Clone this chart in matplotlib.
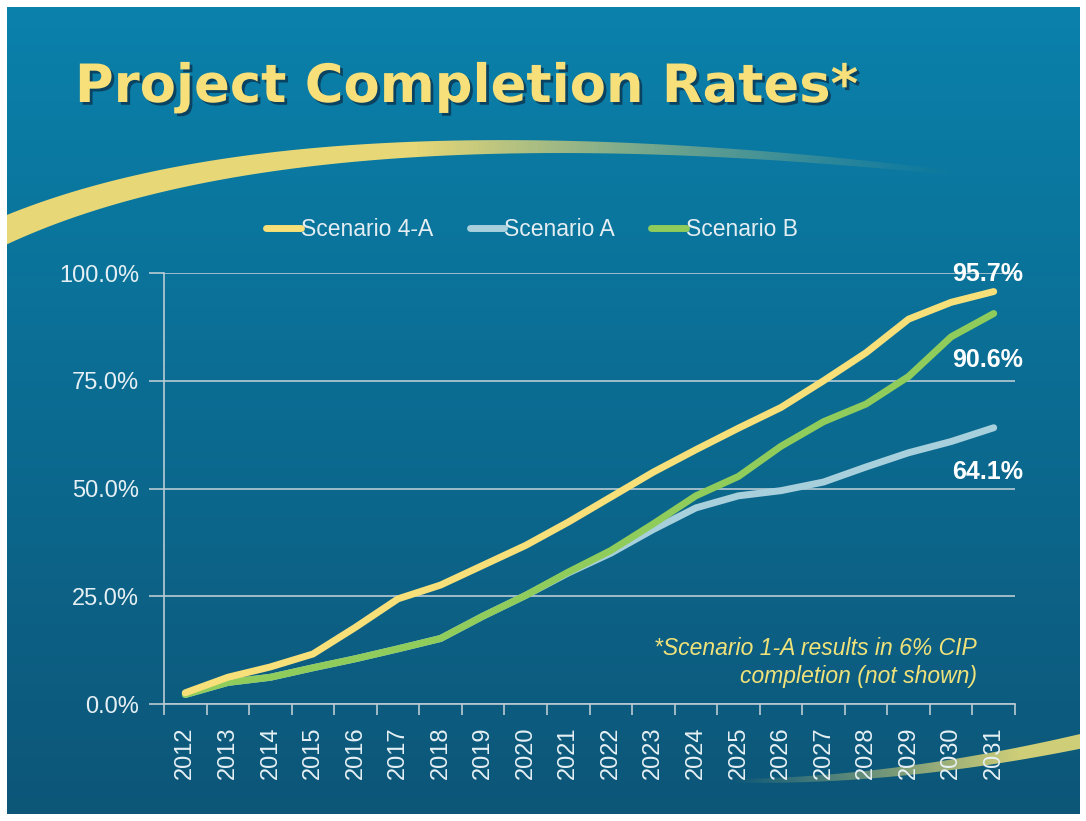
import numpy as np
import matplotlib
matplotlib.use("Agg")
import matplotlib.pyplot as plt
import matplotlib.patheffects as pe
from matplotlib.patches import Polygon, Rectangle
from matplotlib.ticker import FixedLocator, PercentFormatter

years = [str(y) for y in range(2012, 2032)]
scenario_4a = [2.6, 6.2, 8.6, 11.6, 17.8, 24.4, 27.6, 32.2, 36.8, 42.2,
               48.0, 53.8, 59.0, 64.0, 68.8, 75.0, 81.5, 89.3, 93.2, 95.7]
scenario_a = [2.2, 5.0, 6.2, 8.4, 10.5, 12.8, 15.2, 20.4, 25.2, 30.4,
              35.0, 40.5, 45.5, 48.3, 49.5, 51.5, 55.0, 58.3, 60.9, 64.1]
scenario_b = [2.2, 5.0, 6.2, 8.4, 10.5, 12.8, 15.2, 20.4, 25.2, 30.6,
              35.6, 41.8, 48.3, 52.8, 59.8, 65.5, 69.6, 76.0, 85.2, 90.6]

W, H = 1086, 821
fig = plt.figure(figsize=(W / 100, H / 100), dpi=100)
fig.patch.set_facecolor("white")
plt.rcParams["font.family"] = ["Liberation Sans", "DejaVu Sans"]

# background slide
bg = fig.add_axes([0, 0, 1, 1])
bg.set_xlim(0, W)
bg.set_ylim(H, 0)
bg.axis("off")
top = np.array([0x0a, 0x81, 0xab]) / 255
bot = np.array([0x0d, 0x56, 0x78]) / 255
t = np.linspace(0, 1, 256)[:, None]
grad = (top * (1 - t) + bot * t)[:, None, :].repeat(2, axis=1)
bg.imshow(grad, extent=[7, 1080, 814, 7], aspect="auto", zorder=0)


def swoosh(p0, p1, p2, w0, w1, alpha_fn, color):
    s = np.linspace(0, 1, 300)[:, None]
    p0, p1, p2 = map(np.array, (p0, p1, p2))
    c = (1 - s) ** 2 * p0 + 2 * s * (1 - s) * p1 + s ** 2 * p2
    d = np.gradient(c, axis=0)
    n = np.stack([-d[:, 1], d[:, 0]], axis=1)
    n /= np.linalg.norm(n, axis=1)[:, None]
    w = (w0 + (w1 - w0) * s) / 2
    poly = np.vstack([c + n * w, (c - n * w)[::-1]])
    patch = Polygon(poly, closed=True, fc="none", ec="none")
    bg.add_patch(patch)
    xs = np.linspace(0, 1, 256)
    rgba = np.zeros((2, 256, 4))
    rgba[..., :3] = matplotlib.colors.to_rgb(color)
    rgba[..., 3] = alpha_fn(xs)
    x_lo, x_hi = poly[:, 0].min(), poly[:, 0].max()
    y_lo, y_hi = poly[:, 1].min(), poly[:, 1].max()
    im = bg.imshow(rgba, extent=[x_lo, x_hi, y_hi, y_lo], aspect="auto", zorder=1)
    im.set_clip_path(patch)


swoosh((-20, 242), (300, 84), (1075, 188), 28, 3,
       lambda u: 0.95 * np.clip((0.9 - u) / 0.5, 0, 1) ** 1.3, "#f4dd74")
swoosh((690, 780), (880, 787), (1100, 737), 2, 15,
       lambda u: 0.9 * np.clip((u - 0.1) / 0.7, 0, 1), "#e6dc78")

# white page margins
for rect in [(0, 0, W, 7), (0, 814, W, 7), (0, 0, 7, H), (1080, 0, 6, H)]:
    bg.add_patch(Rectangle(rect[:2], rect[2], rect[3], fc="white", ec="none", zorder=5))

# title
fig.text(75 / W, 1 - 102 / H, "Project Completion Rates*", fontsize=38,
         fontweight="bold", family="DejaVu Sans", color="#f7df7a",
         va="baseline", ha="left",
         path_effects=[pe.withSimplePatchShadow(offset=(2, -2), shadow_rgbFace="#0a3550", alpha=0.8)])

# chart
ax = fig.add_axes([164 / W, 1 - 704 / H, 851 / W, 431 / H])
ax.set_facecolor("none")
x = np.arange(len(years))
ax.plot(x, scenario_a, color="#a8d0dc", lw=5, solid_capstyle="round", label="Scenario A", zorder=3)
ax.plot(x, scenario_b, color="#8fcc5c", lw=5, solid_capstyle="round", label="Scenario B", zorder=4)
ax.plot(x, scenario_4a, color="#f7e07a", lw=5, solid_capstyle="round", label="Scenario 4-A", zorder=5)

ax.set_xlim(-0.5, len(years) - 0.5)
ax.set_ylim(0, 100)
ax.yaxis.set_major_locator(FixedLocator([0, 25, 50, 75, 100]))
ax.yaxis.set_major_formatter(PercentFormatter(decimals=1))
ax.grid(axis="y", color="#b9cbd3", lw=1.2)
ax.set_axisbelow(True)
for s in ("top", "right"):
    ax.spines[s].set_visible(False)
for s in ("left", "bottom"):
    ax.spines[s].set_color("#b9cbd3")
    ax.spines[s].set_linewidth(1.2)

ax.set_xticks(x)
ax.set_xticklabels(years, rotation=90, va="top", ha="center")
ax.set_xticks(np.arange(-0.5, len(years)), minor=True)
ax.tick_params(axis="x", which="major", length=0, pad=16, labelsize=17, labelcolor="#e6f0f4")
ax.tick_params(axis="x", which="minor", length=8, width=1.2, color="#b9cbd3", direction="out")
ax.tick_params(axis="y", length=11, width=1.2, color="#b9cbd3", pad=7,
               labelsize=17, labelcolor="#e6f0f4")

# end labels
ends = [(scenario_4a[-1], 18), (scenario_b[-1], -46), (scenario_a[-1], -44)]
for v, dy in ends:
    ax.annotate(f"{v:.1f}%", (x[-1], v), xytext=(-6, dy), textcoords="offset pixels",
                ha="center", va="center", fontsize=18, fontweight="bold",
                color="white", zorder=6)

# footnote
fig.text(977 / W, 1 - 648 / H, "*Scenario 1-A results in 6% CIP",
         ha="right", va="center", fontsize=16.5, style="italic", color="#f0e27a")
fig.text(977 / W, 1 - 677 / H, "completion (not shown)",
         ha="right", va="center", fontsize=16.5, style="italic", color="#f0e27a")

# legend
handles, labels = ax.get_legend_handles_labels()
order = [2, 0, 1]
leg = fig.legend([handles[i] for i in order], [labels[i] for i in order],
                 loc="center", bbox_to_anchor=(532 / W, 1 - 230 / H), ncol=3,
                 frameon=False, handlelength=1.5, handletextpad=0.0,
                 columnspacing=1.6, prop={"size": 16.5})
for txt in leg.get_texts():
    txt.set_color("#e4eef2")

fig.savefig("out.png", dpi=100, facecolor=fig.get_facecolor())
